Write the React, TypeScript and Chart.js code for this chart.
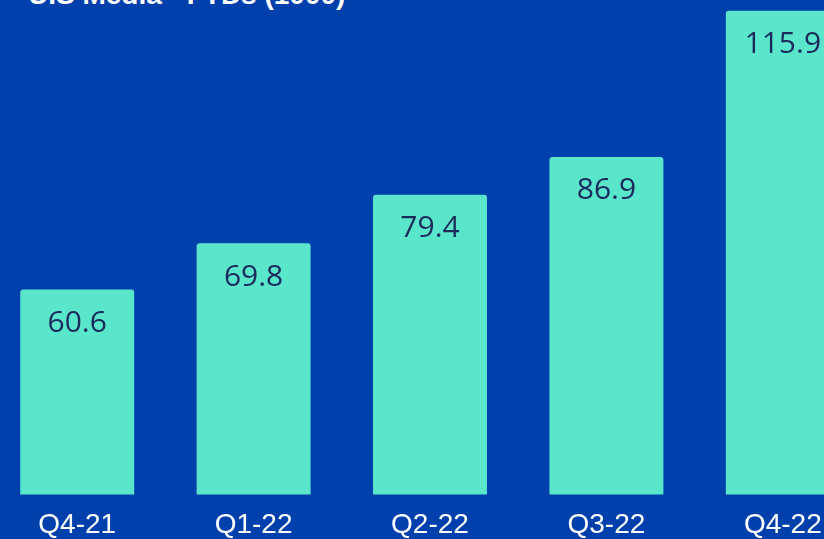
import React, { useEffect, useRef } from "react";
import { Chart, registerables } from "chart.js";

Chart.register(...registerables);

const title = "U.S Media - FTDs (1000)";
const categories = ["Q4-21", "Q1-22", "Q2-22", "Q3-22", "Q4-22"];
const ftds = [60.6, 69.8, 79.4, 86.9, 115.9];
const yMin = 20;
const yMax = 120;

const BG = "#0040AC";
const BAR = "#5AE6CA";
const LABEL = "#1C2B5C";

const valueLabels = {
  id: "valueLabels",
  afterDatasetsDraw(chart: any) {
    const ctx = chart.ctx;
    const meta = chart.getDatasetMeta(0);
    ctx.save();
    ctx.font = '30px "Open Sans", "Noto Sans", sans-serif';
    ctx.fillStyle = LABEL;
    ctx.textAlign = "center";
    ctx.textBaseline = "alphabetic";
    meta.data.forEach((bar: any, i: number) => {
      ctx.fillText(ftds[i].toFixed(1), bar.x, bar.y + 42.5);
    });
    ctx.restore();
  },
};

export default function App() {
  const ref = useRef<HTMLCanvasElement | null>(null);
  useEffect(() => {
    document.body.style.margin = "0";
    const chart = new Chart(ref.current!, {
      type: "bar",
      data: {
        labels: categories,
        datasets: [
          {
            data: ftds,
            backgroundColor: BAR,
            borderRadius: 3,
            categoryPercentage: 1,
            barPercentage: 0.646,
          },
        ],
      },
      options: {
        responsive: false,
        animation: false,
        events: [],
        layout: { padding: 0 },
        plugins: {
          legend: { display: false },
          tooltip: { enabled: false },
          title: { display: false },
        },
        scales: {
          x: {
            grid: { display: false, drawTicks: false },
            border: { display: false },
            ticks: {
              color: "#FFFFFF",
              padding: 14,
              font: { family: '"Liberation Sans", Arial, sans-serif', size: 28 },
            },
          },
          y: {
            display: false,
            min: yMin,
            max: yMax,
          },
        },
      },
      plugins: [valueLabels],
    });
    return () => chart.destroy();
  }, []);

  return (
    <div
      style={{
        position: "fixed",
        left: 0,
        top: 0,
        width: 824,
        height: 539,
        background: BG,
        overflow: "hidden",
      }}
    >
      <div
        style={{
          position: "absolute",
          left: 28,
          top: -19,
          fontFamily: '"Liberation Sans", Arial, sans-serif',
          fontWeight: "bold",
          fontSize: 28,
          lineHeight: "28px",
          color: "#FFFFFF",
          whiteSpace: "nowrap",
        }}
      >
        {title}
      </div>
      <canvas
        ref={ref}
        width={882}
        height={566}
        style={{ position: "absolute", left: -11, top: -10 }}
      />
    </div>
  );
}
